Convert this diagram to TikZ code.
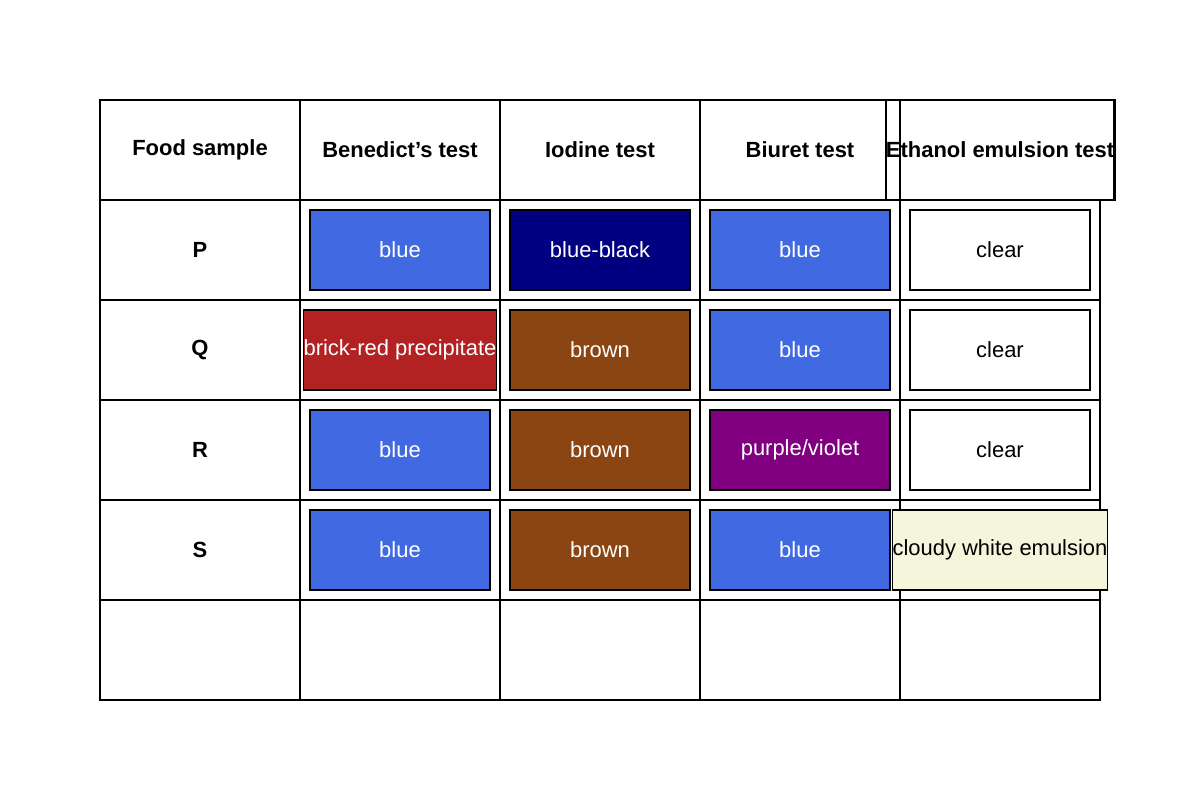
\documentclass[tikz,border=0pt]{standalone}
\usepackage{fontspec}
\setmainfont{Liberation Sans}
\definecolor{bluec}{HTML}{4169E1}
\definecolor{navyc}{HTML}{000080}
\definecolor{redc}{HTML}{B22222}
\definecolor{brownc}{HTML}{8B4513}
\definecolor{purplec}{HTML}{800080}
\definecolor{beigec}{HTML}{F5F5DC}
\begin{document}
\begin{tikzpicture}[x=0.02cm,y=-0.02cm]
\tikzset{
  cell/.style={draw=black,line width=1.6pt,minimum width=4cm,minimum height=2cm,inner sep=0pt,font=\fontsize{12.5}{15}\selectfont\bfseries},
  res/.style={draw=black,line width=0.8pt,minimum width=3.6cm,minimum height=1.6cm,inner sep=0pt,font=\fontsize{12.5}{15}\selectfont,text=white},
  light/.style={res,text=black}
}
\useasboundingbox (0,0) rectangle (1200,800);
% header row
\node[cell] (h1) at (200,150) {Food sample};
\node[cell] (h2) at (400,150) {Benedict's test};
\node[cell] (h3) at (600,150) {Iodine test};
\node[cell] (h4) at (800,150) {Biuret test};
\node[cell] (h5) at (1000,150) {Ethanol emulsion test};
% body cells
\foreach \lab [count=\r] in {P,Q,R,S,{}} {
  \node[cell] (a\r) at (200,150+100*\r) {\lab};
  \foreach \c in {2,3,4,5}
    \node[cell] (c\r\c) at (200*\c,150+100*\r) {};
}
% results
\node[res,fill=bluec] (p2) at (c12) {blue};
\node[res,fill=navyc] (p3) at (c13) {blue-black};
\node[res,fill=bluec] (p4) at (c14) {blue};
\node[light,fill=white] (p5) at (c15) {clear};
\node[res,fill=redc] (q2) at (c22) {brick-red precipitate};
\node[res,fill=brownc] (q3) at (c23) {brown};
\node[res,fill=bluec] (q4) at (c24) {blue};
\node[light,fill=white] (q5) at (c25) {clear};
\node[res,fill=bluec] (r2) at (c32) {blue};
\node[res,fill=brownc] (r3) at (c33) {brown};
\node[res,fill=purplec] (r4) at (c34) {purple/violet};
\node[light,fill=white] (r5) at (c35) {clear};
\node[res,fill=bluec] (s2) at (c42) {blue};
\node[res,fill=brownc] (s3) at (c43) {brown};
\node[res,fill=bluec] (s4) at (c44) {blue};
\node[light,fill=beigec] (s5) at (c45) {cloudy white emulsion};
\end{tikzpicture}
\end{document}
